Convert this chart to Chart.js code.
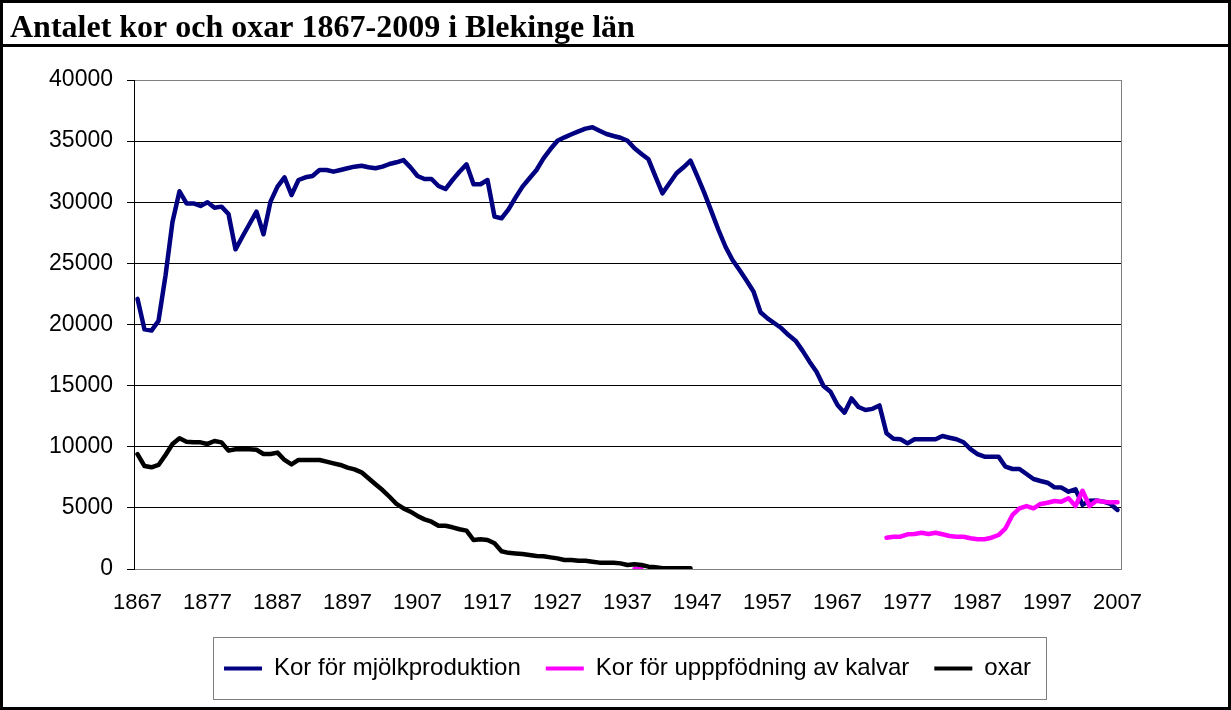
<!DOCTYPE html>
<html>
<head>
<meta charset="utf-8">
<script src="https://cdn.jsdelivr.net/npm/chart.js@4.4.1/dist/chart.umd.min.js"></script>
<style>
html,body{margin:0;padding:0;background:#fff;}
canvas{display:block;}
</style>
</head>
<body>
<canvas id="c" width="1231" height="710"></canvas>
<script>
// ---- categories ----
const firstYear = 1867;
const lastYear = 2007;
const years = [];
for (let y = firstYear; y <= lastYear; y++) years.push(String(y));
const tickYears = ['1867','1877','1887','1897','1907','1917','1927','1937','1947','1957','1967','1977','1987','1997','2007'];
const yTicks = [0, 5000, 10000, 15000, 20000, 25000, 30000, 35000, 40000];

// ---- series values ----
// Kor för mjölkproduktion, 1867-2007
const korMjolk = [
  22100, 19600, 19500, 20300, 24000, 28400, 30900, 29900, 29900, 29700,
  30000, 29550, 29640, 29040, 26150, 27200, 28220, 29230, 27380, 30050,
  31280, 32040, 30590, 31820, 32040, 32150, 32640, 32640, 32500, 32640,
  32780, 32910, 32990, 32860, 32780, 32910, 33130, 33270, 33450, 32850,
  32150, 31900, 31900, 31330, 31080, 31820, 32500, 33100, 31470, 31470,
  31820, 28820, 28690, 29420, 30380, 31280, 31960, 32640, 33590, 34350,
  35030, 35310, 35560, 35800, 36020, 36130, 35850, 35580, 35420, 35280,
  35030, 34410, 33950, 33510, 32100, 30730, 31550, 32370, 32860, 33400,
  32100, 30730, 29230, 27730, 26360, 25280, 24460, 23600, 22700, 21000,
  20500, 20100, 19690, 19140, 18680, 17860, 16960, 16140, 14970, 14500,
  13420, 12790, 13950, 13250, 13010, 13100, 13380, 11100, 10660, 10610,
  10280, 10610, 10610, 10610, 10610, 10880, 10740, 10610, 10370, 9800,
  9400, 9190, 9190, 9190, 8370, 8180, 8180, 7770, 7360, 7200,
  7060, 6680, 6660, 6320, 6520, 5240, 5590, 5600, 5510, 5320,
  4830
];
// Kor för uppfödning av kalvar: two short runs
const kalvarStart1 = 1938;
const kalvar1 = [0, 0];
const kalvarStart2 = 1974;
const kalvar2 = [
  2560, 2640, 2640, 2840, 2870, 2970, 2870, 2970, 2840, 2700,
  2640, 2640, 2510, 2430, 2430, 2560, 2780, 3330, 4420, 4960,
  5150, 4960, 5320, 5420, 5560, 5510, 5780, 5150, 6400, 5150,
  5590, 5510, 5450, 5450
];
// oxar, 1867-1946
const oxarStart = 1867;
const oxar = [
  9400, 8420, 8320, 8510, 9330, 10230, 10690, 10410, 10360, 10360,
  10230, 10470, 10360, 9680, 9790, 9790, 9790, 9750, 9410, 9410,
  9520, 8920, 8560, 8920, 8920, 8920, 8920, 8780, 8640, 8510,
  8290, 8150, 7910, 7420, 6930, 6460, 5910, 5320, 4960, 4690,
  4340, 4060, 3870, 3540, 3540, 3410, 3250, 3140, 2370, 2430,
  2370, 2100, 1450, 1320, 1270, 1230, 1150, 1060, 1040, 950,
  870, 740, 740, 680, 680, 600, 520, 520, 520, 460,
  330, 380, 330, 190, 140, 60, 60, 60, 60, 60
];

// place a run of values onto the year categories (null elsewhere)
function place(arr, startYear, values) {
  values.forEach((v, k) => { arr[startYear - firstYear + k] = v; });
  return arr;
}
const kalvarData = years.map(() => null);
place(kalvarData, kalvarStart1, kalvar1);
place(kalvarData, kalvarStart2, kalvar2);
const oxarData = place(years.map(() => null), oxarStart, oxar);

const framePlugin = {
  id: 'frame',
  beforeDatasetsDraw(chart) {
    const {ctx, chartArea: a} = chart;
    ctx.save();
    ctx.strokeStyle = '#808080';
    ctx.lineWidth = 1;
    ctx.beginPath();
    ctx.moveTo(Math.round(a.right) + 0.5, a.top);
    ctx.lineTo(Math.round(a.right) + 0.5, a.bottom);
    ctx.stroke();
    ctx.restore();
  },
  afterDraw(chart) {
    const ctx = chart.ctx;
    ctx.save();
    // outer frame
    ctx.strokeStyle = '#000';
    ctx.lineWidth = 3;
    ctx.strokeRect(1.5, 1.5, chart.width - 3, chart.height - 3);
    // title divider
    ctx.beginPath();
    ctx.moveTo(0, 45.5);
    ctx.lineTo(chart.width, 45.5);
    ctx.stroke();
    // legend frame
    ctx.strokeStyle = '#808080';
    ctx.lineWidth = 1;
    ctx.strokeRect(213.5, 637.5, 833, 62);
    ctx.restore();
  }
};

new Chart(document.getElementById('c'), {
  type: 'line',
  data: {
    labels: years,
    datasets: [
      { label: 'Kor för mjölkproduktion', data: korMjolk, borderColor: '#000080', backgroundColor: '#000080', order: 3 },
      { label: 'Kor för upppfödning av kalvar', data: kalvarData, borderColor: '#FF00FF', backgroundColor: '#FF00FF', order: 2 },
      { label: 'oxar', data: oxarData, borderColor: '#000000', backgroundColor: '#000000', order: 1 }
    ]
  },
  options: {
    responsive: false,
    animation: false,
    devicePixelRatio: 1,
    spanGaps: false,
    elements: {
      line: { borderWidth: 4.5, tension: 0, borderJoinStyle: 'round', borderCapStyle: 'round', fill: false },
      point: { radius: 0, hoverRadius: 0 }
    },
    layout: { padding: { left: 10, right: 110, top: 0, bottom: 19.5 } },
    scales: {
      x: {
        type: 'category',
        offset: true,
        grid: { display: false, drawTicks: false },
        border: { display: true, color: '#808080', width: 1 },
        ticks: {
          autoSkip: false, maxRotation: 0, minRotation: 0, padding: 21,
          color: '#000',
          font: { family: '"Liberation Sans", Arial, sans-serif', size: 22 },
          callback: function(val, idx) { const y = years[idx]; return tickYears.includes(y) ? y : ''; }
        },
        afterFit(s) { s.height = 62.5; }
      },
      y: {
        min: 0, max: 40000,
        afterBuildTicks(s) { s.ticks = yTicks.map(v => ({ value: v })); },
        grid: {
          color: c => (c.tick && c.tick.value === 40000) ? '#808080' : '#000',
          tickColor: '#000', tickLength: 7, drawTicks: true, lineWidth: 1
        },
        border: { display: true, color: '#000', width: 1 },
        ticks: {
          padding: 14, color: '#000',
          font: { family: '"Liberation Sans", Arial, sans-serif', size: 23 },
          callback: v => String(v)
        },
        afterFit(s) { s.width = 124; }
      }
    },
    plugins: {
      tooltip: { enabled: false },
      title: {
        display: true,
        text: 'Antalet kor och oxar 1867-2009 i Blekinge län',
        align: 'start',
        color: '#000',
        font: { family: '"Liberation Serif", "Times New Roman", serif', size: 32, weight: 'bold', lineHeight: 1 },
        padding: { top: 13, bottom: 35 }
      },
      legend: {
        position: 'bottom',
        fullSize: false,
        labels: {
          boxWidth: 38, boxHeight: 4, padding: 25, color: '#000',
          font: { family: '"Liberation Sans", Arial, sans-serif', size: 24 },
          generateLabels: chart => chart.data.datasets.map((ds, i) => ({
            text: ds.label, fillStyle: ds.borderColor, strokeStyle: ds.borderColor,
            lineWidth: 0, hidden: false, datasetIndex: i, fontColor: '#000'
          }))
        }
      }
    }
  },
  plugins: [framePlugin]
});
</script>
</body>
</html>
